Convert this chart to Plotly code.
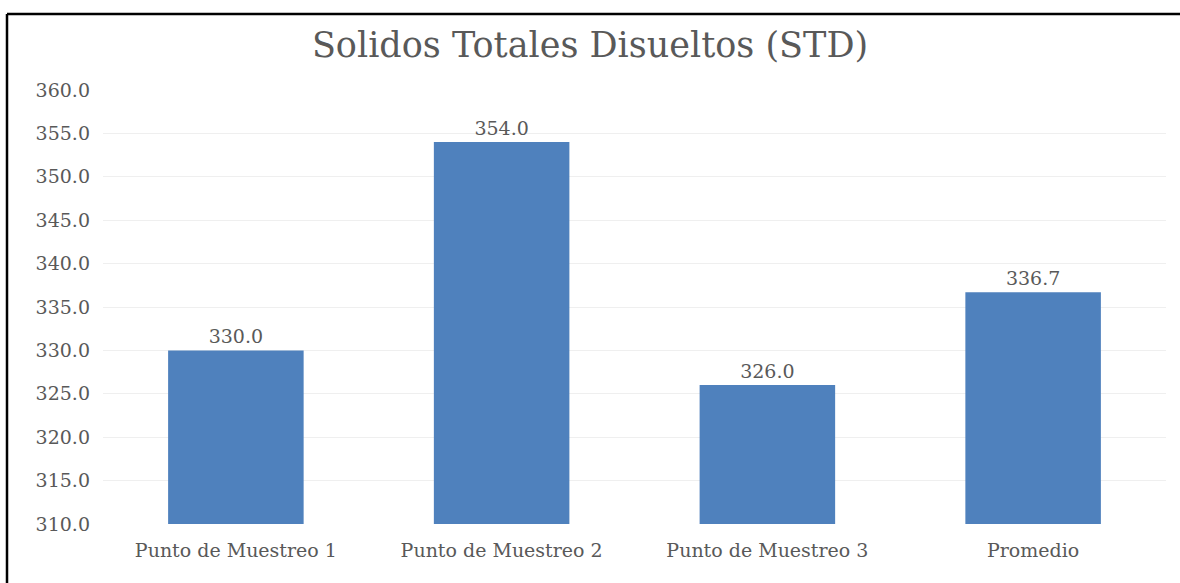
import plotly.graph_objects as go

categories = ["Punto de Muestreo 1", "Punto de Muestreo 2", "Punto de Muestreo 3", "Promedio"]
values = [330.0, 354.0, 326.0, 336.7]
title_text = "Solidos Totales Disueltos (STD)"

W, H = 1180, 583
L, R, T, B = 103, 14, 90, 59
pw, ph = W - L - R, H - T - B
FONT = "DejaVu Serif"
GREY = "#595959"

fig = go.Figure(go.Bar(
    x=categories, y=values,
    marker=dict(color="#4F81BD", line=dict(width=0)),
    width=0.51,
    texttemplate="%{y:.1f}", textposition="outside",
    textfont=dict(family=FONT, size=19, color=GREY),
    cliponaxis=False,
))

fig.update_layout(
    width=W, height=H,
    margin=dict(l=L, r=R, t=T, b=B, autoexpand=False),
    paper_bgcolor="white", plot_bgcolor="white",
    title=dict(text=title_text, x=0.5, xanchor="center", y=1 - 45 / H, yanchor="middle",
               font=dict(family=FONT, size=35, color=GREY)),
    showlegend=False,
    font=dict(family=FONT, color=GREY),
)
fig.update_yaxes(range=[310, 360], dtick=5, tickformat=".1f",
                 showgrid=True, gridcolor="#EFEFEF", gridwidth=1,
                 zeroline=False, showline=False,
                 tickfont=dict(family=FONT, size=19, color=GREY),
                 ticklabelstandoff=12)
fig.update_xaxes(showgrid=False, showline=False, zeroline=False,
                 tickfont=dict(family=FONT, size=19, color=GREY),
                 ticklabelstandoff=13)

# outer frame (left and top edges visible)
x_left = (7 - L) / pw
y_top = (H - B - 14) / ph
x_right = (W + 5 - L) / pw
y_bottom = (H - B - (H + 5)) / ph
fig.add_shape(type="line", xref="paper", yref="paper", x0=x_left, x1=x_right, y0=y_top, y1=y_top,
              line=dict(color="black", width=2.5))
fig.add_shape(type="line", xref="paper", yref="paper", x0=x_left, x1=x_left, y0=y_top, y1=y_bottom,
              line=dict(color="black", width=2.5))

fig.write_html("out.html", config={"displayModeBar": False},
               post_script="document.body.style.margin='0';")
